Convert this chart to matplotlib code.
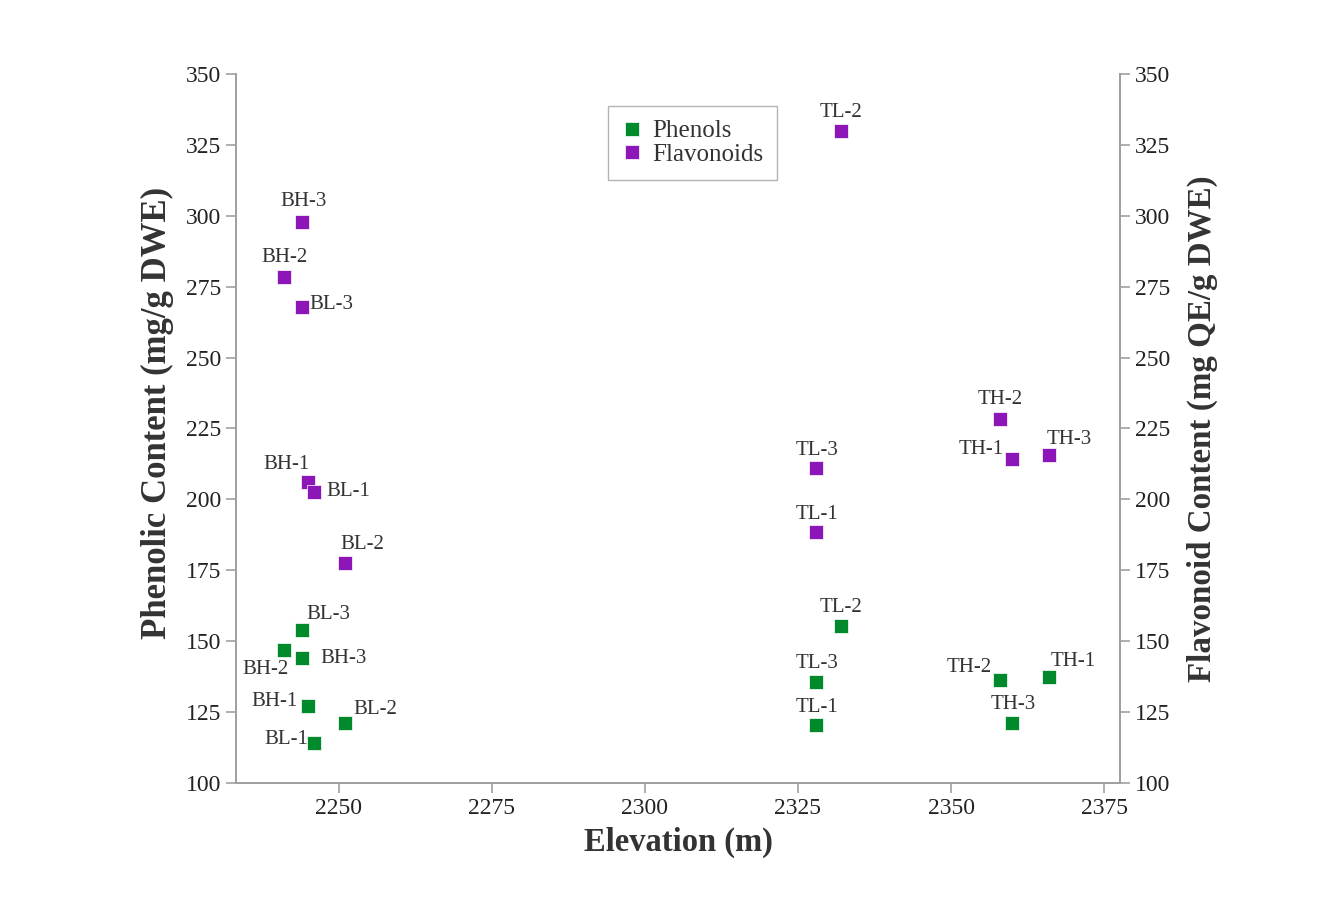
import numpy as np
import matplotlib
matplotlib.use("Agg")
import matplotlib.pyplot as plt

# ── Data ─────────────────────────────────────────────────────────────
ELEVATION = [2241, 2244, 2244, 2245, 2246, 2251, 2328, 2328, 2332, 2358, 2360, 2366]
PHENOLS   = [147.0, 154.0, 144.0, 127.0, 114.0, 121.0, 135.6, 120.4, 155.3, 136.3, 121.0, 137.3]
FLAVONOIDS = [278.5, 268.0, 297.9, 206.0, 202.5, 177.5, 211.0, 188.4, 330.0, 228.5, 214.4, 215.5]
PHEN_LABELS = ['BH-2', 'BL-3', 'BH-3', 'BH-1', 'BL-1', 'BL-2',
               'TL-3', 'TL-1', 'TL-2', 'TH-2', 'TH-3', 'TH-1']
FLAV_LABELS = ['BH-2', 'BL-3', 'BH-3', 'BH-1', 'BL-1', 'BL-2',
               'TL-3', 'TL-1', 'TL-2', 'TH-2', 'TH-1', 'TH-3']

# label placement (pixel offsets, horizontal alignment)
PHEN_OFF = [(-18, -20, 'center'), (26, 15, 'center'), (18, 0, 'left'),
            (-11, 5, 'right'), (-6, 4, 'right'), (8, 14, 'left'),
            (1, 19, 'center'), (1, 18, 'center'), (0, 19, 'center'),
            (-8, 13, 'right'), (1, 19, 'center'), (2, 16, 'left')]
FLAV_OFF = [(1, 19, 'center'), (7, 2, 'left'), (1, 20, 'center'),
            (-22, 18, 'center'), (12, 1, 'left'), (17, 19, 'center'),
            (1, 18, 'center'), (1, 18, 'center'), (0, 18, 'center'),
            (0, 19, 'center'), (-9, 9, 'right'), (20, 16, 'center')]

GREEN  = '#008a2c'
PURPLE = '#8c16b8'
GREY   = '#a0a0a0'

plt.rcParams['font.family'] = ['Liberation Serif', 'DejaVu Serif']

fig = plt.figure(figsize=(13.37, 9.0), dpi=100)
ax = fig.add_axes([236/1337, 1-783/900, (1120-236)/1337, (783-74)/900])

ax.plot(ELEVATION, PHENOLS, 's', color=GREEN, ms=10.5, mec='white', mew=0.5,
        label='Phenols')
ax.plot(ELEVATION, FLAVONOIDS, 's', color=PURPLE, ms=10.5, mec='white', mew=0.5,
        label='Flavonoids')

for x, y, lab, (dx, dy, ha) in zip(ELEVATION, PHENOLS, PHEN_LABELS, PHEN_OFF):
    ax.annotate(lab, (x, y), xytext=(dx, dy), textcoords='offset pixels',
                ha=ha, va='center', fontsize=15, color='#333333')
for x, y, lab, (dx, dy, ha) in zip(ELEVATION, FLAVONOIDS, FLAV_LABELS, FLAV_OFF):
    ax.annotate(lab, (x, y), xytext=(dx, dy), textcoords='offset pixels',
                ha=ha, va='center', fontsize=15, color='#333333')

ax.set_xlim(2233.2, 2377.6)
ax.set_ylim(100, 350)
ax.set_xticks([2250, 2275, 2300, 2325, 2350, 2375])
ax.set_yticks(np.arange(100, 351, 25))

ax2 = ax.twinx()
ax2.set_ylim(100, 350)
ax2.set_yticks(np.arange(100, 351, 25))

for a in (ax, ax2):
    a.spines['top'].set_visible(False)
    for s in ('left', 'right', 'bottom'):
        a.spines[s].set_color(GREY)
        a.spines[s].set_linewidth(1.3)
    a.tick_params(axis='both', colors=GREY, labelcolor='#222222',
                  length=7, width=1.2, labelsize=17)

ax.set_xlabel('Elevation (m)', fontsize=23.5, fontweight='bold', color='#333333',
              labelpad=6)
ax.set_ylabel('Phenolic Content (mg/g DWE)', fontsize=25, fontweight='bold',
              color='#333333', va='center')
ax.yaxis.set_label_coords(-0.089, 0.522)
ax2.set_ylabel('Flavonoid Content (mg QE/g DWE)', fontsize=23.8, fontweight='bold',
               color='#333333', labelpad=12)

leg = ax.legend(loc='upper left', bbox_to_anchor=(608/1337, 1-106/900),
                bbox_transform=fig.transFigure, fontsize=18, frameon=True,
                fancybox=False, borderpad=0.55, handletextpad=0.4,
                labelspacing=0.05, handlelength=0.8, borderaxespad=0)
leg.get_frame().set_edgecolor(GREY)
leg.get_frame().set_linewidth(1.0)
for t in leg.get_texts():
    t.set_color('#333333')

fig.savefig('out.png', dpi=100)
